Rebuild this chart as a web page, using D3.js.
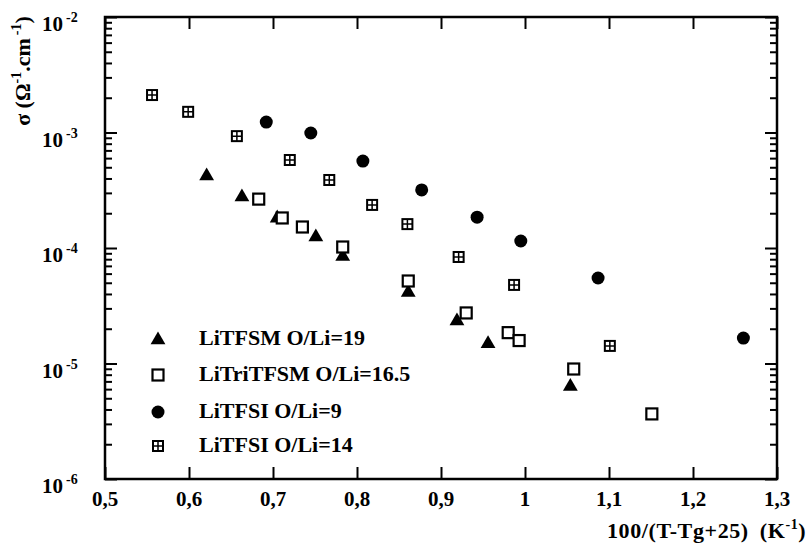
<!DOCTYPE html>
<html><head><meta charset="utf-8">
<script src="https://cdn.jsdelivr.net/npm/d3@7"></script>
<style>body{margin:0;background:#fff}svg{display:block}</style>
</head><body><svg id="c" width="806" height="545"></svg>
<script>
// Data (x = 100/(T-Tg+25), y = sigma)
const seriesNames = ["LiTFSM O/Li=19", "LiTriTFSM O/Li=16.5", "LiTFSI O/Li=9", "LiTFSI O/Li=14"];
const triX = [0.621, 0.663, 0.705, 0.751, 0.783, 0.861, 0.919, 0.956, 1.054];
const triY = [4.29e-4, 2.82e-4, 1.85e-4, 1.27e-4, 8.6e-5, 4.2e-5, 2.38e-5, 1.51e-5, 6.45e-6];
const sqX = [0.683, 0.711, 0.735, 0.783, 0.861, 0.930, 0.980, 0.993, 1.058, 1.151];
const sqY = [2.65e-4, 1.82e-4, 1.52e-4, 1.02e-4, 5.18e-5, 2.74e-5, 1.85e-5, 1.58e-5, 8.96e-6, 3.66e-6];
const circX = [0.692, 0.745, 0.807, 0.877, 0.943, 0.995, 1.087, 1.260];
const circY = [1.23e-3, 9.9e-4, 5.66e-4, 3.18e-4, 1.85e-4, 1.15e-4, 5.5e-5, 1.66e-5];
const gridX = [0.556, 0.599, 0.657, 0.720, 0.767, 0.818, 0.860, 0.921, 0.987, 1.101];
const gridY = [2.11e-3, 1.51e-3, 9.3e-4, 5.78e-4, 3.88e-4, 2.36e-4, 1.61e-4, 8.36e-5, 4.79e-5, 1.42e-5];
const xTicks = [0.5, 0.6, 0.7, 0.8, 0.9, 1.0, 1.1, 1.2, 1.3];
const xTickLabels = ["0,5", "0,6", "0,7", "0,8", "0,9", "1", "1,1", "1,2", "1,3"];
const yTicks = [1e-6, 1e-5, 1e-4, 1e-3, 1e-2];
const yTickExps = ["-6", "-5", "-4", "-3", "-2"];

const FONT = "Liberation Serif";
const svg = d3.select("#c");
const L = 105, R = 777, T = 17, B = 479;
const x = d3.scaleLinear().domain([0.5, 1.3]).range([L, R]);
const y = d3.scaleLog().domain([1e-6, 1e-2]).range([B, T]);

// minor y ticks
const minor = [];
for (let e = -6; e < -2; e++) for (let k = 2; k <= 9; k++) minor.push(k * Math.pow(10, e));

const ax = svg.append("g");
ax.append("g").attr("transform", `translate(${L},0)`).call(d3.axisRight(y).tickValues(yTicks).tickSize(12).tickFormat(""));
ax.append("g").attr("transform", `translate(${L},0)`).call(d3.axisRight(y).tickValues(minor).tickSize(7).tickFormat(""));
ax.append("g").attr("transform", `translate(${R},0)`).call(d3.axisLeft(y).tickValues(yTicks).tickSize(12).tickFormat(""));
ax.append("g").attr("transform", `translate(${R},0)`).call(d3.axisLeft(y).tickValues(minor).tickSize(7).tickFormat(""));
ax.append("g").attr("transform", `translate(0,${B})`).call(d3.axisTop(x).tickValues(xTicks).tickSize(12).tickFormat(""));
ax.append("g").attr("transform", `translate(0,${T})`).call(d3.axisBottom(x).tickValues(xTicks).tickSize(12).tickFormat(""));
ax.selectAll(".domain").remove();
ax.selectAll("line").attr("stroke", "#000").attr("stroke-width", 2);
svg.append("rect").attr("x", L).attr("y", T).attr("width", R - L).attr("height", B - T)
  .attr("fill", "none").attr("stroke", "#000").attr("stroke-width", 2.5);

// x tick labels
svg.append("g").selectAll("text").data(xTicks).join("text")
  .attr("x", d => x(d)).attr("y", 506).attr("text-anchor", "middle")
  .attr("font-family", FONT).attr("font-weight", "bold")
  .attr("font-size", 21).text((d, i) => xTickLabels[i]);
// y tick labels
const ylab = svg.append("g").selectAll("text").data(yTicks).join("text")
  .attr("x", 42).attr("y", d => y(d) + 14).attr("font-size", 21)
  .attr("font-family", FONT).attr("font-weight", "bold");
ylab.append("tspan").text("10");
ylab.append("tspan").attr("dx", 3).attr("dy", -9).attr("font-size", 14).text((d, i) => yTickExps[i]);

// axis titles
const xt = svg.append("text").attr("x", 607).attr("y", 538).attr("font-size", 22)
  .attr("letter-spacing", 0.6).attr("font-family", FONT).attr("font-weight", "bold");
xt.append("tspan").text("100/(T-Tg+25)");
xt.append("tspan").attr("dx", 11).text("(K");
xt.append("tspan").attr("dy", -9).attr("font-size", 14).text("-1");
xt.append("tspan").attr("dy", 9).text(")");

const yt = svg.append("text").attr("transform", "translate(30,71) rotate(-90)").attr("text-anchor", "middle")
  .attr("font-size", 22).attr("font-family", FONT).attr("font-weight", "bold");
yt.append("tspan").text("σ (Ω");
yt.append("tspan").attr("dy", -9).attr("font-size", 14).text("-1");
yt.append("tspan").attr("dy", 9).text(".cm");
yt.append("tspan").attr("dx", 3).attr("dy", -9).attr("font-size", 14).text("-1");
yt.append("tspan").attr("dy", 9).text(")");

// markers
function drawTri(g, cx, cy) {
  g.append("path").attr("d", d3.symbol(d3.symbolTriangle, 95)()).attr("transform", `translate(${cx},${cy + 1})`).attr("fill", "#000");
}
function drawSq(g, cx, cy) {
  g.append("rect").attr("x", cx - 5.5).attr("y", cy - 5.5).attr("width", 11).attr("height", 11)
    .attr("fill", "#fff").attr("stroke", "#000").attr("stroke-width", 2.2);
}
function drawCirc(g, cx, cy) {
  g.append("circle").attr("cx", cx).attr("cy", cy).attr("r", 6.5).attr("fill", "#000");
}
function drawGrid(g, cx, cy) {
  g.append("rect").attr("x", cx - 5).attr("y", cy - 5).attr("width", 10).attr("height", 10)
    .attr("fill", "#fff").attr("stroke", "#000").attr("stroke-width", 2);
  g.append("path").attr("d", `M${cx - 5},${cy}H${cx + 5}M${cx},${cy - 5}V${cy + 5}`).attr("stroke", "#000").attr("stroke-width", 1.5);
}
const pts = svg.append("g");
triX.forEach((v, i) => drawTri(pts, x(v), y(triY[i])));
sqX.forEach((v, i) => drawSq(pts, x(v), y(sqY[i])));
circX.forEach((v, i) => drawCirc(pts, x(v), y(circY[i])));
gridX.forEach((v, i) => drawGrid(pts, x(v), y(gridY[i])));

// legend
const lg = svg.append("g");
const legY = [339, 375, 412, 446];
const drawers = [drawTri, drawSq, drawCirc, drawGrid];
seriesNames.forEach((n, i) => {
  drawers[i](lg, 158, legY[i]);
  lg.append("text").attr("x", 199).attr("y", legY[i] + 6).attr("font-size", 22)
    .attr("font-family", FONT).attr("font-weight", "bold").text(n);
});
</script></body></html>
